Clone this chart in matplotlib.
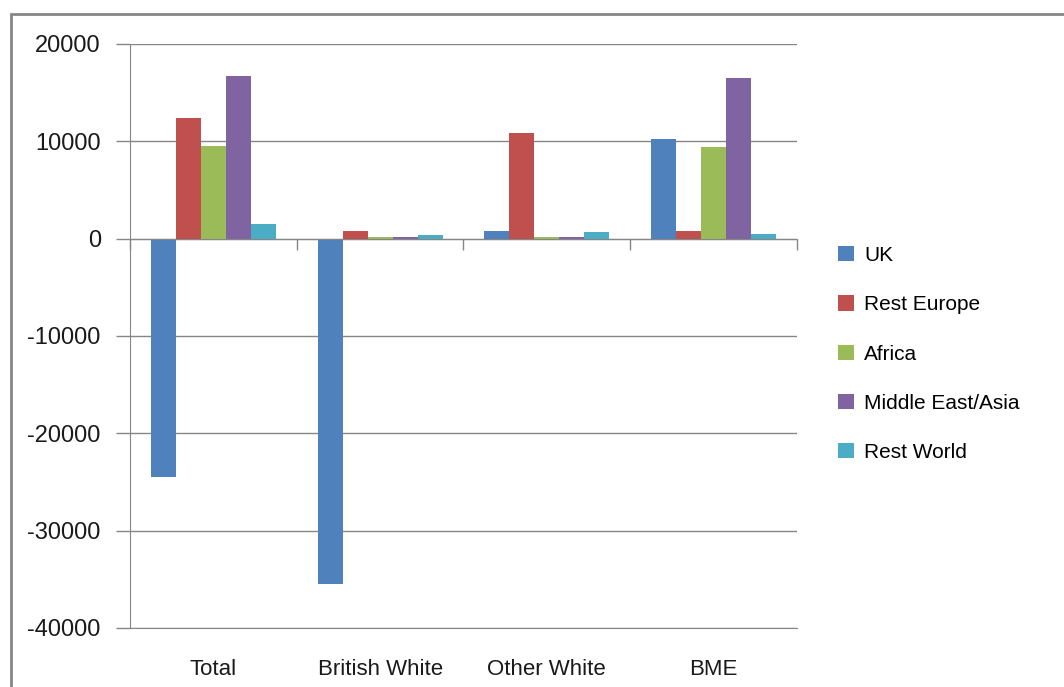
import matplotlib
matplotlib.use('Agg')
import matplotlib.pyplot as plt
import numpy as np
from matplotlib.patches import Rectangle

plt.rcParams['font.family'] = ['Liberation Sans', 'DejaVu Sans']
plt.rcParams['axes.unicode_minus'] = False

# data
categories = ['Total', 'British White', 'Other White', 'BME']
series = ['UK', 'Rest Europe', 'Africa', 'Middle East/Asia', 'Rest World']
uk = [-24500, -35500, 800, 10200]
rest_europe = [12400, 800, 10900, 800]
africa = [9500, 150, 150, 9400]
middle_east_asia = [16700, 150, 150, 16500]
rest_world = [1500, 400, 700, 500]
values = [uk, rest_europe, africa, middle_east_asia, rest_world]
colors = ['#4F81BD', '#C0504D', '#9BBB59', '#8064A2', '#4BACC6']
yticks = [-40000, -30000, -20000, -10000, 0, 10000, 20000]

W, H = 1064, 687
fig = plt.figure(figsize=(W / 100, H / 100), dpi=100)
ax = fig.add_axes([130 / W, 1 - 628 / H, (797 - 130) / W, (628 - 44) / H])

# outer chart frame
fig.patches.append(Rectangle((11 / W, -0.2), 2, 1 - 14 / H + 0.2, transform=fig.transFigure,
                             fill=False, edgecolor='#878787', linewidth=2))

axis_gray = '#868686'
x = np.arange(len(categories))
bw = 0.15
for i, (vals, c, name) in enumerate(zip(values, colors, series)):
    ax.bar(x + (i - 2) * bw, vals, bw, color=c, label=name, zorder=3)

ax.set_xlim(-0.5, len(categories) - 0.5)
ax.set_ylim(-40000, 20000)
ax.set_yticks(yticks)
ax.yaxis.grid(True, color=axis_gray, linewidth=1, zorder=0)
ax.tick_params(axis='y', length=10, width=1, color=axis_gray, pad=11, labelsize=17, labelcolor='#1a1a1a')

for s in ['top', 'right']:
    ax.spines[s].set_visible(False)
ax.spines['left'].set_color(axis_gray)
ax.spines['bottom'].set_position(('data', 0))
ax.spines['bottom'].set_color(axis_gray)
ax.spines['bottom'].set_zorder(4)
ax.set_xticks(np.arange(len(categories) + 1) - 0.5)
ax.tick_params(axis='x', direction='out', length=8, width=1, color=axis_gray, labelbottom=False)

# category labels along the bottom of the plot area
sec = ax.secondary_xaxis('bottom')
sec.set_xticks(x)
sec.set_xticklabels(categories)
sec.tick_params(length=0, pad=22, labelsize=16, labelcolor='#1a1a1a')
sec.spines['bottom'].set_color(axis_gray)

ax.legend(loc='center left', bbox_to_anchor=(838 / W, 1 - 354 / H), bbox_transform=fig.transFigure,
          frameon=False, fontsize=15, handlelength=0.75, handleheight=0.75, handletextpad=0.5,
          labelspacing=1.45, borderpad=0, borderaxespad=0)

fig.savefig('out.png', dpi=100)
